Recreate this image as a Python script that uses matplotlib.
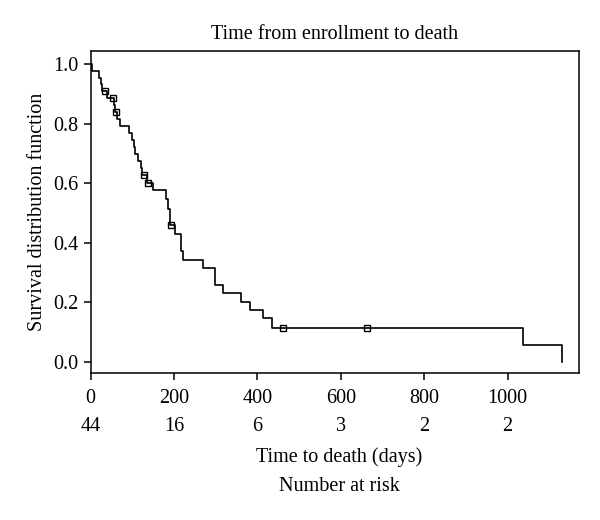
import matplotlib
matplotlib.use("Agg")
import matplotlib.pyplot as plt
from matplotlib.transforms import blended_transform_factory

plt.rcParams['font.family'] = ['Liberation Serif', 'DejaVu Serif']

# Kaplan-Meier curve: time of each drop and survival after it
step_times = [0, 4, 20, 24, 28, 38, 57, 59, 64, 70, 93, 100, 105, 107, 114, 120,
              124, 135, 150, 180, 186, 189, 191, 202, 216, 217, 222, 269, 298,
              318, 361, 382, 413, 434, 1036, 1130]
step_surv = [1.0, 0.977, 0.955, 0.932, 0.909, 0.886, 0.862, 0.839, 0.816, 0.792,
             0.768, 0.745, 0.721, 0.698, 0.674, 0.651, 0.627, 0.602, 0.578, 0.547,
             0.512, 0.483, 0.460, 0.430, 0.401, 0.373, 0.342, 0.314, 0.258, 0.230,
             0.202, 0.174, 0.146, 0.115, 0.058, 0.0]

# censored observations
censor_times = [34, 54, 60, 129, 138, 192, 461, 663]
censor_surv = [0.909, 0.886, 0.839, 0.627, 0.602, 0.460, 0.115, 0.115]

# number at risk table
risk_times = [0, 200, 400, 600, 800, 1000]
risk_counts = [44, 16, 6, 3, 2, 2]

fs = 14.5

fig = plt.figure(figsize=(6, 5.2), dpi=100)
ax = fig.add_axes([0.1512, 0.2821, 0.8143, 0.6198])

ax.step(step_times, step_surv, where='post', color='black', linewidth=1.2)
ax.plot(censor_times, censor_surv, linestyle='none', marker='s', markersize=5,
        markerfacecolor='none', markeredgecolor='black', markeredgewidth=1.0)

ax.set_xlim(0, 1172)
ax.set_ylim(-0.038, 1.044)
ax.set_xticks(risk_times)
ax.set_yticks([0.0, 0.2, 0.4, 0.6, 0.8, 1.0])
ax.set_yticklabels(['0.0', '0.2', '0.4', '0.6', '0.8', '1.0'])
ax.tick_params(direction='out', length=5, width=1.1, labelsize=fs, colors='black')
ax.tick_params(axis='x', pad=6)
ax.tick_params(axis='y', pad=4)
for sp in ax.spines.values():
    sp.set_linewidth(1.1)

ax.set_ylabel('Survival distribution function', fontsize=fs, labelpad=4)
ax.set_title('Time from enrollment to death', fontsize=fs, pad=9)

trans = blended_transform_factory(ax.transData, fig.transFigure)
for t, n in zip(risk_times, risk_counts):
    ax.text(t, 1 - 426.7 / 520, str(n), transform=trans, ha='center', va='center',
            fontsize=fs)

fig.text(0.566, 1 - 456.7 / 520, 'Time to death (days)', ha='center', va='center',
         fontsize=fs)
fig.text(0.566, 1 - 486.7 / 520, 'Number at risk', ha='center', va='center',
         fontsize=fs)

fig.savefig('out.png', dpi=100)
plt.close(fig)
